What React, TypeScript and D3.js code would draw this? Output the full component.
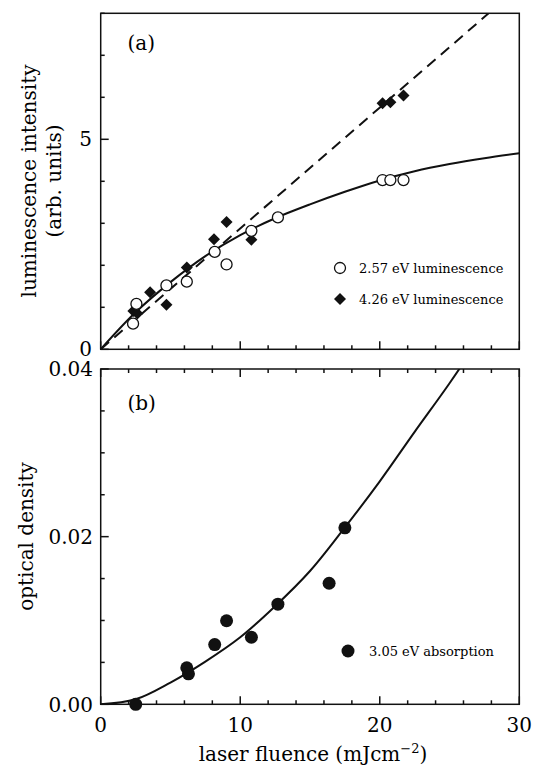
import React from "react";
import * as d3 from "d3";

// PANEL (a) DATA - luminescence
const lum257X = [2.32, 2.56, 4.71, 6.17, 8.17, 9.02, 10.8, 12.7, 20.2, 20.76, 21.7];
const lum257Y = [0.61, 1.08, 1.52, 1.61, 2.32, 2.02, 2.82, 3.14, 4.03, 4.03, 4.03];
const lum426X = [2.34, 2.63, 3.54, 4.71, 6.17, 8.12, 9.02, 10.8, 20.2, 20.76, 21.7];
const lum426Y = [0.91, 0.85, 1.36, 1.06, 1.95, 2.62, 3.03, 2.61, 5.86, 5.88, 6.04];
// fitted curves
const fitSolidX = [0, 2.5, 5, 7.5, 10, 12.5, 15, 17.5, 20, 22.5, 25, 27.5, 30];
const fitSolidY = [0, 0.88, 1.6, 2.22, 2.72, 3.12, 3.45, 3.75, 4.02, 4.24, 4.41, 4.55, 4.67];
const fitDashX = [0, 27.8];
const fitDashY = [0, 8];

// PANEL (b) DATA - absorption
const absX = [2.51, 6.17, 6.29, 8.17, 9.02, 10.8, 12.7, 16.37, 17.5];
const absY = [0.0, 0.00436, 0.00364, 0.00712, 0.00997, 0.008, 0.01195, 0.01444, 0.02105];
const fitAbsX = [0, 2.5, 5, 7.5, 10, 12.5, 15, 17.5, 20, 22.5, 25, 27.5];
const fitAbsY = [0, 0.0006, 0.0026, 0.0051, 0.008, 0.0117, 0.0159, 0.0211, 0.0266, 0.0325, 0.0383, 0.0445];

// TICKS
const xMajor = [0, 10, 20, 30];
const lumMajor = [0, 5];
const absMajor = [0, 0.02, 0.04];

const FONT = "DejaVu Serif";

export default function App() {
  const W = 533;
  const H = 768;
  const left = 100.7;
  const right = 519.3;

  const x = d3.scaleLinear().domain([0, 30]).range([left, right]);
  const yA = d3.scaleLinear().domain([0, 8]).range([349.3, 13.3]);
  const yB = d3.scaleLinear().domain([0, 0.04]).range([704.3, 369]);

  const xMinor = x.ticks(15);
  const yAMinor = yA.ticks(8);
  const yBMinor = d3.range(0, 0.0401, 0.005);

  const solid = d3
    .line<number>()
    .x((d, i) => x(fitSolidX[i]))
    .y((d) => yA(d))
    .curve(d3.curveCatmullRom);
  const dash = d3
    .line<number>()
    .x((d, i) => x(fitDashX[i]))
    .y((d) => yA(d));
  const absLine = d3
    .line<number>()
    .x((d, i) => x(fitAbsX[i]))
    .y((d) => yB(d))
    .curve(d3.curveCatmullRom);

  const diamond = (cx: number, cy: number, r: number) =>
    `M${cx},${cy - r}L${cx + r},${cy}L${cx},${cy + r}L${cx - r},${cy}Z`;

  const frame = (yS: d3.ScaleLinear<number, number>, topTicks: boolean) => {
    const [y0, y1] = yS.range();
    return (
      <g stroke="#111" strokeWidth={1.5} fill="none">
        <rect x={left} y={y1} width={right - left} height={y0 - y1} />
        {xMinor.map((t) => {
          const len = xMajor.includes(t) ? 8 : 4;
          return (
            <g key={"xt" + t}>
              <line x1={x(t)} x2={x(t)} y1={y0} y2={y0 - len} />
              {topTicks && <line x1={x(t)} x2={x(t)} y1={y1} y2={y1 + len} />}
            </g>
          );
        })}
      </g>
    );
  };

  return (
    <svg
      width={W}
      height={H}
      style={{ position: "absolute", left: 0, top: 0, background: "#fff" }}
      fontFamily={FONT}
    >
      <defs>
        <clipPath id="clipA">
          <rect x={left} y={13.3} width={right - left} height={336} />
        </clipPath>
        <clipPath id="clipB">
          <rect x={left} y={369} width={right - left} height={335.3} />
        </clipPath>
      </defs>

      {/* PANEL (a) */}
      {frame(yA, false)}
      <g stroke="#111" strokeWidth={1.5}>
        {yAMinor.map((t) => (
          <line key={"ya" + t} x1={left} x2={left + (lumMajor.includes(t) ? 8 : 4)} y1={yA(t)} y2={yA(t)} />
        ))}
      </g>
      {lumMajor.map((t) => (
        <text key={"yal" + t} x={92} y={yA(t)} dy="0.33em" textAnchor="end" fontSize={20}>
          {t}
        </text>
      ))}
      <g clipPath="url(#clipA)" fill="none" stroke="#111" strokeWidth={2}>
        <path d={dash(fitDashY) || ""} strokeDasharray="11,7" />
        <path d={solid(fitSolidY) || ""} />
      </g>
      {lum426X.map((v, i) => (
        <path key={"d" + i} d={diamond(x(v), yA(lum426Y[i]), 6)} fill="#111" />
      ))}
      {lum257X.map((v, i) => (
        <circle key={"c" + i} cx={x(v)} cy={yA(lum257Y[i])} r={5.5} fill="#fff" stroke="#111" strokeWidth={1.3} />
      ))}
      <text x={127.5} y={43} dy="0.35em" fontSize={20}>(a)</text>
      <text transform={`translate(28.6,${(13 + 349) / 2}) rotate(-90)`} textAnchor="middle" dy="0.35em" fontSize={20}>
        luminescence intensity
      </text>
      <text transform={`translate(54,${(13 + 349) / 2}) rotate(-90)`} textAnchor="middle" dy="0.35em" fontSize={20}>
        (arb. units)
      </text>
      <circle cx={340} cy={268} r={5.5} fill="#fff" stroke="#111" strokeWidth={1.3} />
      <text x={359} y={268} dy="0.35em" fontSize={13}>2.57 eV luminescence</text>
      <path d={diamond(340, 299, 6)} fill="#111" />
      <text x={359} y={299} dy="0.35em" fontSize={13}>4.26 eV luminescence</text>

      {/* PANEL (b) */}
      {frame(yB, true)}
      <g stroke="#111" strokeWidth={1.5}>
        {yBMinor.map((t) => (
          <line
            key={"yb" + t}
            x1={left}
            x2={left + (absMajor.some((m) => Math.abs(m - t) < 1e-9) ? 8 : 4)}
            y1={yB(t)}
            y2={yB(t)}
          />
        ))}
      </g>
      {absMajor.map((t) => (
        <text key={"ybl" + t} x={93} y={yB(t)} dy="0.37em" textAnchor="end" fontSize={20}>
          {d3.format(".2f")(t)}
        </text>
      ))}
      <g clipPath="url(#clipB)" fill="none" stroke="#111" strokeWidth={2}>
        <path d={absLine(fitAbsY) || ""} />
      </g>
      {absX.map((v, i) => (
        <circle key={"a" + i} cx={x(v)} cy={yB(absY[i])} r={6.5} fill="#111" />
      ))}
      <text x={127.5} y={403} dy="0.35em" fontSize={20}>(b)</text>
      <text transform={`translate(25.5,${(369 + 704) / 2}) rotate(-90)`} textAnchor="middle" dy="0.35em" fontSize={20}>
        optical density
      </text>
      <circle cx={348} cy={651} r={6.5} fill="#111" />
      <text x={369} y={651} dy="0.35em" fontSize={13}>3.05 eV absorption</text>

      {/* X AXIS LABELS */}
      {xMajor.map((t) => (
        <text key={"xl" + t} x={x(t)} y={725} dy="0.35em" textAnchor="middle" fontSize={20}>
          {t}
        </text>
      ))}
      <text x={313} y={761} textAnchor="middle" fontSize={20}>
        laser fluence (mJcm
        <tspan dy={-8} fontSize={13}>−2</tspan>
        <tspan dy={8}>)</tspan>
      </text>
    </svg>
  );
}
